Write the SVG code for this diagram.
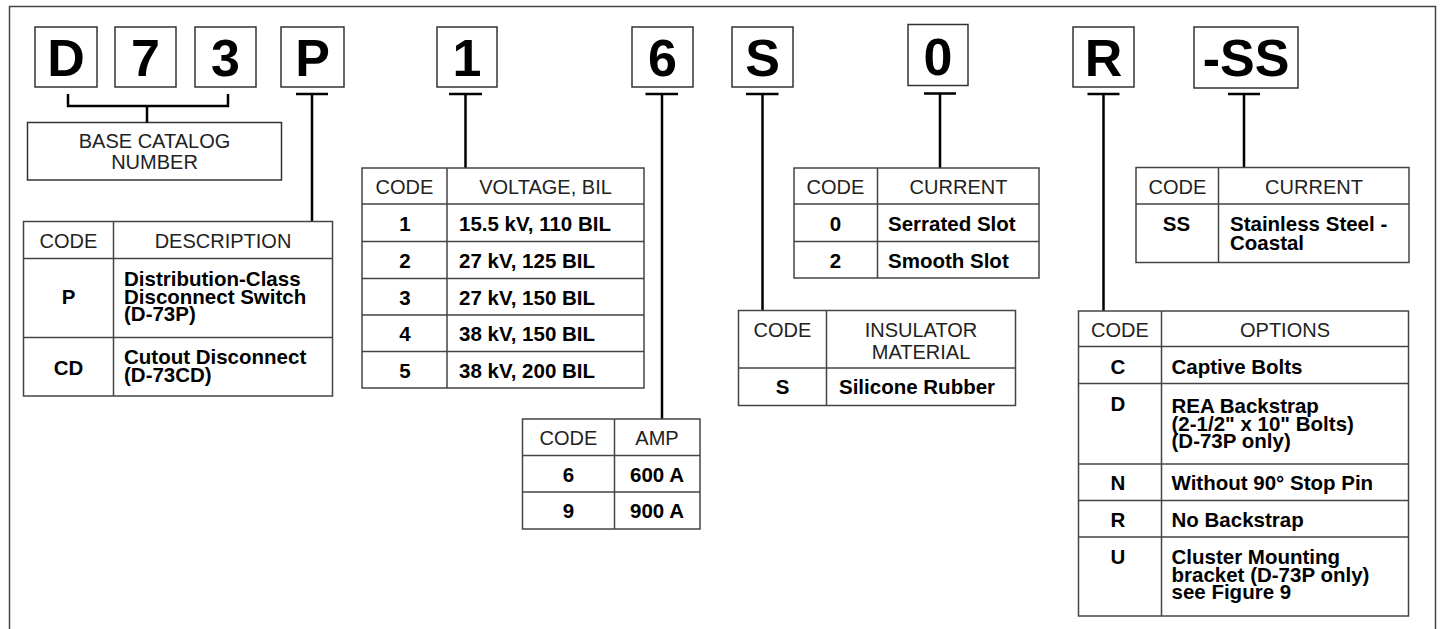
<svg xmlns="http://www.w3.org/2000/svg" width="1441" height="629" viewBox="0 0 1441 629">
<style>
.frame{fill:none;stroke:#444;stroke-width:1.5}
.lbox{fill:#fff;stroke:#333;stroke-width:1.5}
.tb{fill:#fff;stroke:#444;stroke-width:1.5}
.tl{stroke:#444;stroke-width:1.5;fill:none}
.conn path{stroke:#000;stroke-width:2.5;fill:none}
.big{font-family:"Liberation Sans",Arial,sans-serif;font-weight:bold;font-size:52px;text-anchor:middle;fill:#000}
.hd{font-family:"Liberation Sans",Arial,sans-serif;font-size:20px;fill:#222}
.c{text-anchor:middle}
.bd{font-family:"Liberation Sans",Arial,sans-serif;font-weight:bold;font-size:20.5px;fill:#000}
</style>
<rect width="1441" height="629" fill="#fff"/>
<path class="frame" d="M9.5,629 V6.5 H1435.5 V629"/>

<g id="letter-D"><rect class="lbox" x="35" y="27" width="62" height="60"/><text class="big" x="66" y="76">D</text></g>
<g id="letter-7"><rect class="lbox" x="115" y="27" width="61" height="60"/><text class="big" x="145.5" y="76">7</text></g>
<g id="letter-3"><rect class="lbox" x="195" y="27" width="61" height="60"/><text class="big" x="225.5" y="76">3</text></g>
<g id="letter-P"><rect class="lbox" x="281" y="27" width="63" height="60"/><text class="big" x="312.5" y="76">P</text></g>
<g id="letter-1"><rect class="lbox" x="437" y="27" width="60" height="60"/><text class="big" x="467" y="76">1</text></g>
<g id="letter-6"><rect class="lbox" x="632" y="27" width="61" height="60"/><text class="big" x="662.5" y="76">6</text></g>
<g id="letter-S"><rect class="lbox" x="732" y="27" width="61" height="60"/><text class="big" x="762.5" y="76">S</text></g>
<g id="letter-0"><rect class="lbox" x="908" y="24.5" width="60" height="61"/><text class="big" x="938" y="74.5">0</text></g>
<g id="letter-R"><rect class="lbox" x="1073" y="27" width="61" height="60"/><text class="big" x="1103.5" y="76">R</text></g>
<g id="letter-SS"><rect class="lbox" x="1194" y="27" width="104" height="61"/><text class="big" x="1246" y="76">-SS</text></g>

<g id="base-catalog">
<rect class="lbox" x="27.5" y="122.5" width="254" height="57.5"/>
<text class="hd c" x="154.5" y="148">BASE CATALOG<tspan x="154.5" dy="21">NUMBER</tspan></text>
</g>

<g id="connectors" class="conn">
<path d="M68,94 V106 H228 V94 M147,106 V122.5"/>
<path d="M296,94 H328 M312,94 V221.5"/>
<path d="M449,94 H482 M465.5,94 V168"/>
<path d="M645.5,94 H678 M662,94 V419"/>
<path d="M746,94 H778.5 M762.5,94 V310.5"/>
<path d="M924,93.5 H956 M940,93.5 V168"/>
<path d="M1087.5,94 H1119.5 M1103.5,94 V311"/>
<path d="M1228,94 H1260 M1244,94 V167.5"/>
</g>

<g id="table-description">
<rect class="tb" x="23.5" y="221.5" width="309" height="174.5"/>
<path class="tl" d="M113.5,221.5 V396 M23.5,258.5 H332.5 M23.5,337.5 H332.5"/>
<text class="hd c" x="68.5" y="248">CODE</text>
<text class="hd c" x="223" y="248">DESCRIPTION</text>
<text class="bd c" x="68.5" y="304">P</text>
<text class="bd" x="124" y="286">Distribution-Class<tspan x="124" dy="18">Disconnect Switch</tspan><tspan x="124" dy="17">(D-73P)</tspan></text>
<text class="bd c" x="68.5" y="374.5">CD</text>
<text class="bd" x="124" y="364">Cutout Disconnect<tspan x="124" dy="17.5">(D-73CD)</tspan></text>
</g>

<g id="table-voltage">
<rect class="tb" x="362" y="168" width="282" height="220"/>
<path class="tl" d="M447,168 V388 M362,204 H644 M362,241.5 H644 M362,278.5 H644 M362,315 H644 M362,351.5 H644"/>
<text class="hd c" x="404.5" y="194">CODE</text>
<text class="hd c" x="545.5" y="194">VOLTAGE, BIL</text>
<text class="bd c" x="405" y="231">1</text><text class="bd" x="459" y="231">15.5 kV, 110 BIL</text>
<text class="bd c" x="405" y="268">2</text><text class="bd" x="459" y="268">27 kV, 125 BIL</text>
<text class="bd c" x="405" y="304.5">3</text><text class="bd" x="459" y="304.5">27 kV, 150 BIL</text>
<text class="bd c" x="405" y="341">4</text><text class="bd" x="459" y="341">38 kV, 150 BIL</text>
<text class="bd c" x="405" y="378">5</text><text class="bd" x="459" y="378">38 kV, 200 BIL</text>
</g>

<g id="table-amp">
<rect class="tb" x="522.5" y="419" width="177.5" height="110"/>
<path class="tl" d="M614.5,419 V529 M522.5,455.5 H700 M522.5,492 H700"/>
<text class="hd c" x="568.5" y="445">CODE</text>
<text class="hd c" x="657" y="445">AMP</text>
<text class="bd c" x="568.5" y="481.5">6</text><text class="bd c" x="657" y="481.5">600 A</text>
<text class="bd c" x="568.5" y="518">9</text><text class="bd c" x="657" y="518">900 A</text>
</g>

<g id="table-insulator">
<rect class="tb" x="738.5" y="310.5" width="277" height="95"/>
<path class="tl" d="M826.5,310.5 V405.5 M738.5,368 H1015.5"/>
<text class="hd c" x="782.5" y="337">CODE</text>
<text class="hd c" x="921" y="337">INSULATOR<tspan x="921" dy="22">MATERIAL</tspan></text>
<text class="bd c" x="782.5" y="393.5">S</text><text class="bd" x="839" y="393.5">Silicone Rubber</text>
</g>

<g id="table-current">
<rect class="tb" x="794" y="168" width="245" height="110"/>
<path class="tl" d="M877.5,168 V278 M794,204 H1039 M794,241.5 H1039"/>
<text class="hd c" x="835.5" y="194">CODE</text>
<text class="hd c" x="958.5" y="194">CURRENT</text>
<text class="bd c" x="835.5" y="230.5">0</text><text class="bd" x="888" y="230.5">Serrated Slot</text>
<text class="bd c" x="835.5" y="267.5">2</text><text class="bd" x="888" y="267.5">Smooth Slot</text>
</g>

<g id="table-ss">
<rect class="tb" x="1136" y="167.5" width="273" height="95"/>
<path class="tl" d="M1218.5,167.5 V262.5 M1136,204 H1409"/>
<text class="hd c" x="1177.5" y="194">CODE</text>
<text class="hd c" x="1314" y="194">CURRENT</text>
<text class="bd c" x="1176.5" y="230.5">SS</text>
<text class="bd" x="1230" y="230.5">Stainless Steel -<tspan x="1230" dy="19">Coastal</tspan></text>
</g>

<g id="table-options">
<rect class="tb" x="1078.5" y="311" width="330" height="305"/>
<path class="tl" d="M1161.5,311 V616 M1078.5,346.5 H1408.5 M1078.5,383.5 H1408.5 M1078.5,464 H1408.5 M1078.5,500.5 H1408.5 M1078.5,537 H1408.5"/>
<text class="hd c" x="1120" y="336.5">CODE</text>
<text class="hd c" x="1285" y="336.5">OPTIONS</text>
<text class="bd c" x="1118" y="373.5">C</text><text class="bd" x="1171.5" y="373.5">Captive Bolts</text>
<text class="bd c" x="1118" y="410.5">D</text>
<text class="bd" x="1171.5" y="413">REA Backstrap<tspan x="1171.5" dy="17.5">(2-1/2" x 10" Bolts)</tspan><tspan x="1171.5" dy="17.5">(D-73P only)</tspan></text>
<text class="bd c" x="1118" y="490">N</text><text class="bd" x="1171.5" y="490">Without 90° Stop Pin</text>
<text class="bd c" x="1118" y="526.5">R</text><text class="bd" x="1171.5" y="526.5">No Backstrap</text>
<text class="bd c" x="1118" y="563.5">U</text>
<text class="bd" x="1171.5" y="563.5">Cluster Mounting<tspan x="1171.5" dy="18">bracket (D-73P only)</tspan><tspan x="1171.5" dy="17.5">see Figure 9</tspan></text>
</g>
</svg>
